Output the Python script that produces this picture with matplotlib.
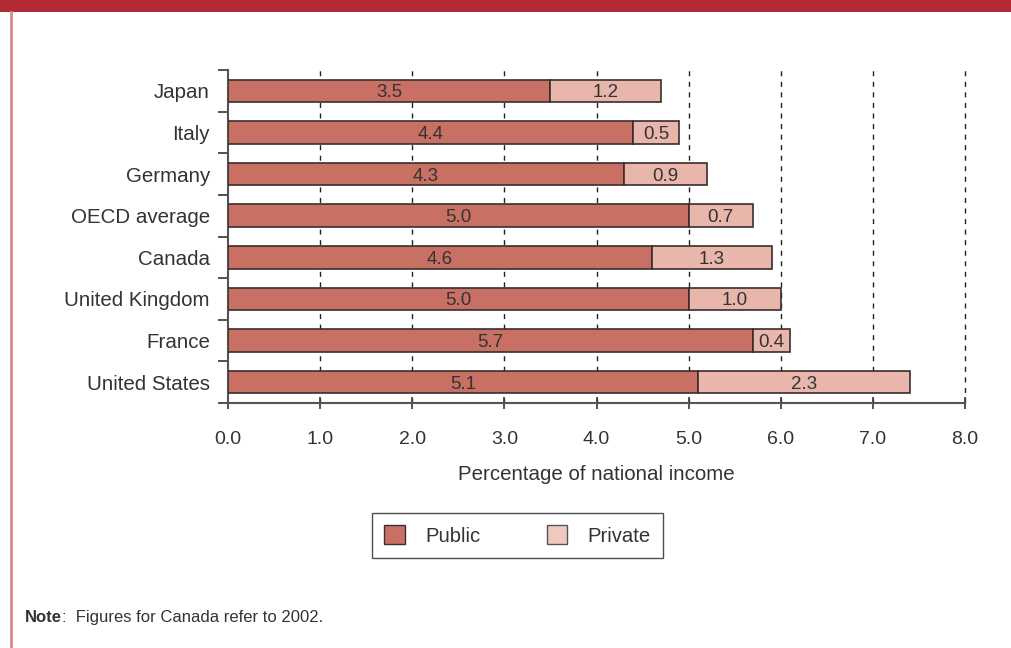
import matplotlib
matplotlib.use("Agg")
import matplotlib.pyplot as plt
from matplotlib.patches import Rectangle, Patch
from matplotlib.lines import Line2D

plt.rcParams['font.family'] = ['Liberation Sans', 'DejaVu Sans']

countries = ["Japan", "Italy", "Germany", "OECD average", "Canada",
             "United Kingdom", "France", "United States"]
public = [3.5, 4.4, 4.3, 5.0, 4.6, 5.0, 5.7, 5.1]
private = [1.2, 0.5, 0.9, 0.7, 1.3, 1.0, 0.4, 2.3]
xticks = [0.0, 1.0, 2.0, 3.0, 4.0, 5.0, 6.0, 7.0, 8.0]

c_pub = "#C87064"
c_priv = "#E8B6AB"
edge = "#3a2e2e"
text_c = "#333333"

fig = plt.figure(figsize=(10.11, 6.48), dpi=100)
W, H = 1011, 648
ax = fig.add_axes([228 / W, 1 - 403 / H, (965 - 228) / W, (403 - 70) / H])

ypos = list(range(len(countries)))
ax.barh(ypos, public, height=0.54, color=c_pub, edgecolor=edge, linewidth=1.2, zorder=3)
ax.barh(ypos, private, left=public, height=0.54, color=c_priv, edgecolor=edge, linewidth=1.2, zorder=3)

for y, p, q in zip(ypos, public, private):
    ax.text(p / 2, y, f"{p:.1f}", ha="center", va="center_baseline", fontsize=13.5, color=text_c, zorder=4)
    ax.text(p + q / 2, y, f"{q:.1f}", ha="center", va="center_baseline", fontsize=13.5, color=text_c, zorder=4)

ax.set_xlim(0, 8)
ax.set_ylim(len(countries) - 0.5, -0.5)
ax.set_xticks(xticks)
ax.set_xticklabels([f"{v:.1f}" for v in xticks], fontsize=14, color=text_c)
ax.set_yticks(ypos)
ax.set_yticklabels(countries, fontsize=14.8, color=text_c)
ax.set_yticks([i - 0.5 for i in range(len(countries) + 1)], minor=True)
ax.tick_params(axis="y", which="major", length=0, pad=13)
ax.tick_params(axis="y", which="minor", length=7, width=1.3, color="#444444", direction="out")
ax.tick_params(axis="x", which="major", length=8.6, width=1.3, color="#444444", direction="inout", pad=16)

for v in xticks[1:]:
    ax.axvline(v, color="#222222", linestyle=(0, (3.6, 4.0)), linewidth=1.0, zorder=1, clip_on=False)

for s in ["top", "right"]:
    ax.spines[s].set_visible(False)
for s in ["left", "bottom"]:
    ax.spines[s].set_color("#555555")
    ax.spines[s].set_linewidth(1.5)

ax.set_xlabel("Percentage of national income", fontsize=14.8, color=text_c, labelpad=12)

handles = [Patch(facecolor=c_pub, edgecolor=edge, label="Public"),
           Patch(facecolor="#EEC9BF", edgecolor="#555555", label="Private")]
leg = fig.legend(handles=handles, ncol=2, loc="center", bbox_to_anchor=(517.5 / W, 1 - 535.5 / H),
                 fontsize=14.6, frameon=True, fancybox=False, handlelength=1.0, handleheight=1.0,
                 columnspacing=3.3, handletextpad=1.0, borderpad=0.62, borderaxespad=0)
leg.get_frame().set_edgecolor("#222222")
leg.get_frame().set_linewidth(1.0)
for t in leg.get_texts():
    t.set_color(text_c)

# decorative frame
fig.patches.append(Rectangle((0, 1 - 12 / H), 1, 12 / H, transform=fig.transFigure,
                             facecolor="#B22A33", edgecolor="none"))
fig.add_artist(Line2D([11 / W, 11 / W], [0, 1 - 12 / H], transform=fig.transFigure,
                      color="#D98A90", linewidth=2))

note = fig.text(25 / W, 1 - 622 / H, "Note", fontsize=12, fontweight="bold", color=text_c, va="baseline")
fig.canvas.draw()
bb = note.get_window_extent()
fig.text(bb.x1 / W, 1 - 622 / H, ":  Figures for Canada refer to 2002.", fontsize=12, color=text_c, va="baseline")

fig.savefig("out.png", dpi=100)
